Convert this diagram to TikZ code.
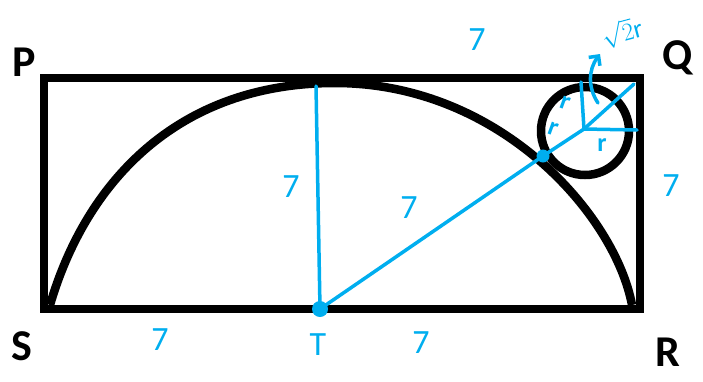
\documentclass[tikz,border=0pt]{standalone}
\usepackage{fontspec}
\setmainfont{Carlito}
\usetikzlibrary{arrows.meta}
\definecolor{penblue}{RGB}{0, 174, 239}

\begin{document}
\begin{tikzpicture}[x=1pt, y=-1pt]
    % Styles
    \tikzstyle{corner} = [font=\fontsize{44}{44}\selectfont\bfseries, text=black, inner sep=0pt]
    \tikzstyle{figure} = [draw=black, line width=8.5pt]
    \tikzstyle{pen} = [draw=penblue, line width=3.5pt, line cap=round, line join=round]
    \tikzstyle{penlabel} = [font=\fontsize{34}{34}\selectfont, text=penblue, inner sep=0pt]
    \tikzstyle{rlabel} = [font=\fontsize{26}{26}\selectfont\bfseries, text=penblue, inner sep=0pt]

    \useasboundingbox (0,0) rectangle (703,381);

    % Points
    \coordinate (p) at (44,78);
    \coordinate (q) at (640,78);
    \coordinate (r) at (640,309);
    \coordinate (s) at (44,309);
    \coordinate (t) at (320,309);
    \coordinate (top) at (316,86);
    \coordinate (touch) at (543,156);
    \coordinate (centre) at (584,129);
    \coordinate (diagend) at (634,84);
    \coordinate (upend) at (581,82);
    \coordinate (sideend) at (637,130);
    \coordinate (arrowfoot) at (598,103);
    \coordinate (arrowhead) at (600,54);

    % Figure
    \draw[figure] (p) -- (q) -- (r) -- (s) -- cycle;
    \draw[figure] (50,305) .. controls (85,185) and (175,83) .. (335,83)
                           .. controls (500,83) and (615,215) .. (632,305);
    \draw[figure] (585,131) circle (44);

    % Blue working
    \draw[pen] (t) -- (top);
    \draw[pen] (t) -- (touch) -- (centre) -- (diagend);
    \draw[pen] (centre) -- (upend);
    \draw[pen] (centre) -- (sideend);
    \draw[pen, -{Straight Barb[length=7pt, width=14pt]}] (arrowfoot) .. controls (588,88) and (588,70) .. (arrowhead);
    \fill[penblue] (t) circle (8);
    \fill[penblue] (touch) circle (6.5);

    % Labels
    \node (lp) [corner] at (24,62) {P};
    \node (lq) [corner] at (678,58) {Q};
    \node (lr) [corner] at (668,352) {R};
    \node (ls) [corner] at (22,346) {S};

    \node (lpq) [penlabel] at (477,40) {7};
    \node (lqr) [penlabel] at (671,186) {7};
    \node (lst) [penlabel] at (160,340) {7};
    \node (ltr) [penlabel] at (421,343) {7};
    \node (lup) [penlabel] at (291,187) {7};
    \node (ldiag) [penlabel] at (409,208) {7};
    \node (lt) [penlabel] at (318,345) {T};

    \node (lr1) [rlabel, rotate=-20] at (565,103) {r};
    \node (lr2) [rlabel, rotate=-20] at (553,129) {r};
    \node (lr3) [rlabel] at (602,145) {r};
    \node (lroot) [font=\fontsize{26}{26}\selectfont, text=penblue, inner sep=0pt, rotate=15] at (622,33) {$\sqrt{2}\mathrm{r}$};
\end{tikzpicture}
\end{document}
